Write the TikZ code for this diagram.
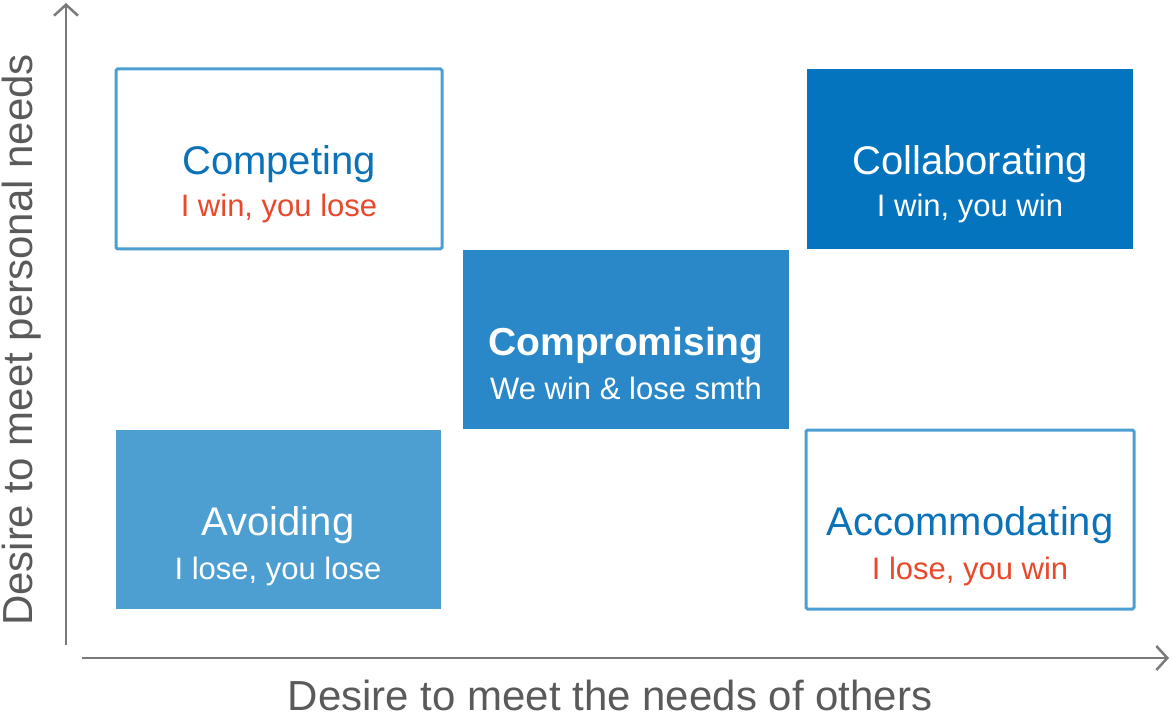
\documentclass[tikz,border=0pt]{standalone}
\usepackage{fontspec}
\setmainfont{Liberation Sans}
\usepackage{tikz}
\usetikzlibrary{arrows.meta}
\definecolor{axisgray}{HTML}{7A7A7A}
\definecolor{labelgray}{HTML}{5A5A5A}
\definecolor{lightblue}{HTML}{4D9FD2}
\definecolor{midblue}{HTML}{2A88C8}
\definecolor{darkblue}{HTML}{0374BD}
\definecolor{textblue}{HTML}{0B72B8}
\definecolor{losered}{HTML}{E8482B}
\tikzset{
  axis/.style={draw=axisgray, line width=2.5pt, -{Straight Barb[length=11pt, width=24pt, line width=2.5pt]}},
  outlinebox/.style={draw=lightblue, line width=3pt, rounded corners=1.5pt, fill=white},
  title/.style={anchor=base, font=\fontsize{40}{44}\selectfont},
  subtitle/.style={anchor=base, font=\fontsize{31}{34}\selectfont},
  axislabel/.style={text=labelgray, font=\fontsize{42}{46}\selectfont},
}
\begin{document}
\begin{tikzpicture}[x=1pt, y=-1pt]
  \useasboundingbox (0,0) rectangle (1172,719);

  % axes
  \coordinate (yfoot) at (66,645);
  \coordinate (ytip) at (66,3);
  \coordinate (xfoot) at (82,658);
  \coordinate (xtip) at (1169,658);
  \draw[axis] (yfoot) -- (ytip);
  \draw[axis] (xfoot) -- (xtip);
  \node[axislabel, rotate=90] (ylabel) at (22,340) {Desire to meet personal needs};
  \node[axislabel] (xlabel) at (610,695) {Desire to meet the needs of others};

  % boxes
  \draw[outlinebox] (116,69) rectangle (442,249);
  \coordinate (competing) at (279,159);
  \fill[darkblue] (807,69) rectangle (1133,249);
  \coordinate (collaborating) at (970,159);
  \fill[midblue] (463,250) rectangle (789,429);
  \coordinate (compromising) at (626,339);
  \fill[lightblue] (116,430) rectangle (441,609);
  \coordinate (avoiding) at (278,519);
  \draw[outlinebox] (806,430) rectangle (1134,609);
  \coordinate (accommodating) at (970,519);

  % texts
  \node[title, text=textblue] (competingt) at ([yshift=-16pt]competing) {Competing};
  \node[subtitle, text=losered] (competings) at ([yshift=-58pt]competing) {I win, you lose};
  \node[title, text=white] (collaboratingt) at ([yshift=-16pt]collaborating) {Collaborating};
  \node[subtitle, text=white] (collaboratings) at ([yshift=-58pt]collaborating) {I win, you win};
  \node[title, text=white, font=\fontsize{39}{44}\selectfont\bfseries] (compromisingt) at ([yshift=-16pt]compromising) {Compromising};
  \node[subtitle, text=white] (compromisings) at ([yshift=-60pt]compromising) {We win \& lose smth};
  \node[title, text=white] (avoidingt) at ([yshift=-16pt]avoiding) {Avoiding};
  \node[subtitle, text=white] (avoidings) at ([yshift=-60pt]avoiding) {I lose, you lose};
  \node[title, text=textblue] (accommodatingt) at ([yshift=-16pt]accommodating) {Accommodating};
  \node[subtitle, text=losered] (accommodatings) at ([yshift=-60pt]accommodating) {I lose, you win};
\end{tikzpicture}
\end{document}
